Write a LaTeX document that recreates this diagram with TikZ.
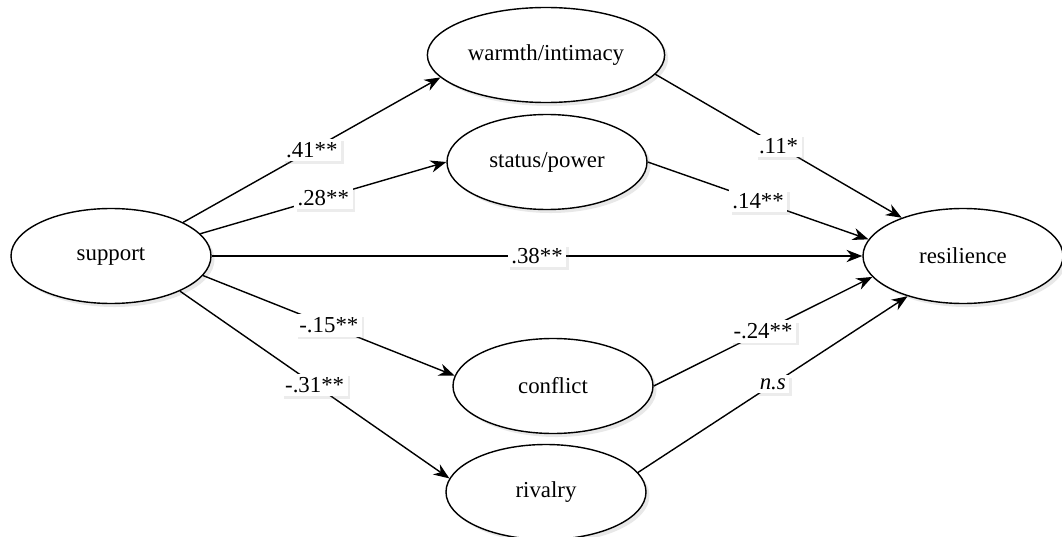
\documentclass[tikz,border=0pt]{standalone}
\usepackage{fontspec}
\setmainfont{Liberation Serif}
\usetikzlibrary{shapes.geometric,arrows.meta,shadows}

\begin{document}
\begin{tikzpicture}[
	latent/.style={ellipse,draw=black,thick,fill=white,minimum width=4cm,minimum height=1.9cm,
		font=\fontsize{13}{15}\selectfont,
		drop shadow={opacity=0.18,shadow xshift=2pt,shadow yshift=-2pt}},
	path/.style={-{Stealth[length=9pt,width=7pt]},thick},
	coef/.style={midway,fill=white,inner sep=2pt,font=\fontsize{13}{15}\selectfont,
		drop shadow={opacity=0.15,shadow xshift=1.5pt,shadow yshift=-1.5pt}}
]
	\useasboundingbox (0,0) rectangle (21.24,-10.74);

% latent variables
	\node[latent] (support) at (2.22,-5.12) {support};
	\node[latent] (warmth) at (10.92,-1.10) {warmth/intimacy};
	\node[latent] (status) at (10.94,-3.24) {status/power};
	\node[latent] (conflict) at (11.06,-7.72) {conflict};
	\node[latent] (rivalry) at (10.92,-9.84) {rivalry};
	\node[latent] (resilience) at (19.26,-5.12) {resilience};

	%Paths
	% support to mediators
	\draw[path] (support.25) -- (warmth.192) node[coef] {.41**};
	\draw[path] (support.14) -- (status.west) node[coef] {.28**};
	\draw[path] (support.-12) -- (conflict.174) node[coef] {-.15**};
	\draw[path] (support.-27) -- (rivalry.172) node[coef] {-.31**};

	% direct path
	\draw[path] (support.east) -- (resilience.west) node[coef] {.38**};

	% mediators to resilience
	\draw[path] (warmth.350) -- (resilience.148) node[coef] {.11*};
	\draw[path] (status.east) -- (resilience.170) node[coef] {.14**};
	\draw[path] (conflict.east) -- (resilience.193) node[coef] {-.24**};
	\draw[path] (rivalry.12) -- (resilience.216) node[coef] {\textit{n.s}};
\end{tikzpicture}
\end{document}
